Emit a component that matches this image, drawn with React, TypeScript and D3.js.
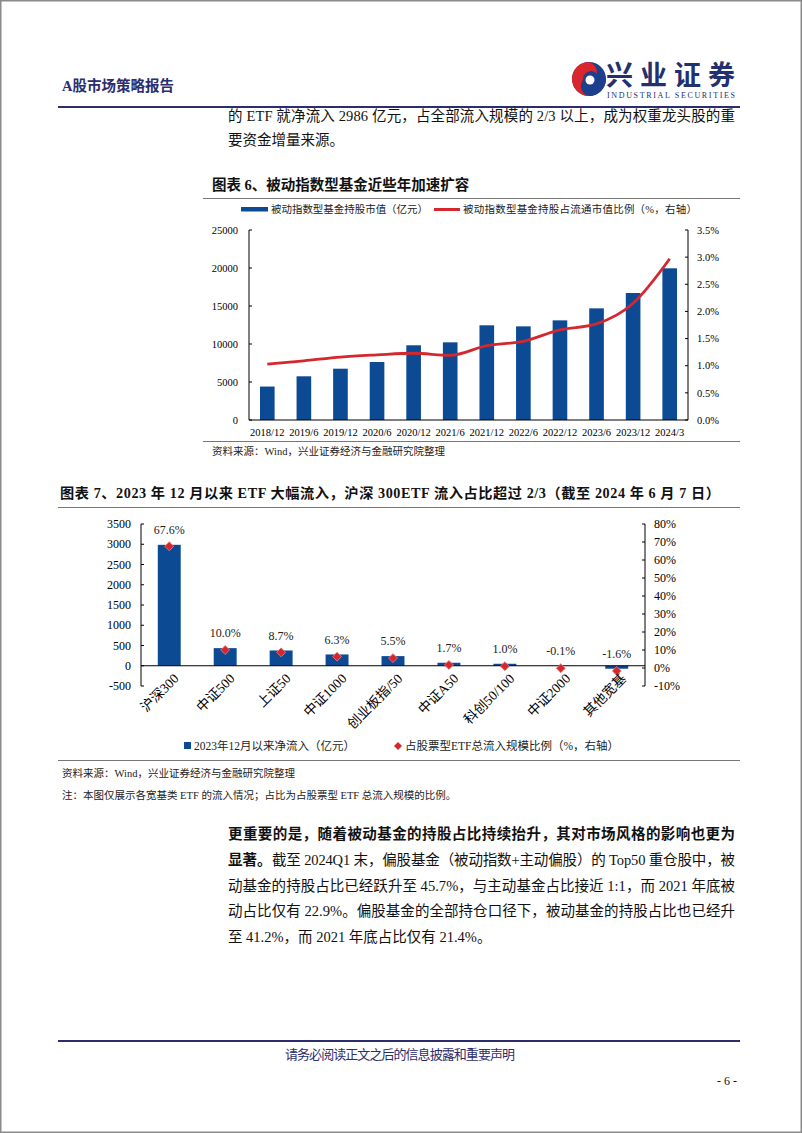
import * as d3 from "d3";

const W = 802;
const H = 1133;
const SERIF = '"Liberation Serif", "Noto Sans CJK SC", serif';
const NAVY = "#2b2d6c";
const BLUE = "#0c4a94";
const RED = "#d5282e";

// 图表6
const periods = ["2018/12", "2019/6", "2019/12", "2020/6", "2020/12", "2021/6", "2021/12", "2022/6", "2022/12", "2023/6", "2023/12", "2024/3"];
const holdingValue = [4400, 5750, 6750, 7630, 9830, 10220, 12460, 12320, 13110, 14690, 16710, 19960];
const floatShare = [1.03, 1.09, 1.16, 1.2, 1.23, 1.19, 1.37, 1.45, 1.66, 1.77, 2.15, 2.97];
const leftTicks1 = [0, 5000, 10000, 15000, 20000, 25000];
const rightTicks1 = [0, 0.5, 1, 1.5, 2, 2.5, 3, 3.5];

// 图表7
const etfNames = ["沪深300", "中证500", "上证50", "中证1000", "创业板指/50", "中证A50", "科创50/100", "中证2000", "其他宽基"];
const netInflow = [2986, 435, 377, 279, 238, 74, 49, -3, -74];
const inflowShare = [67.6, 10.0, 8.7, 6.3, 5.5, 1.7, 1.0, -0.1, -1.6];
const leftTicks2 = [-500, 0, 500, 1000, 1500, 2000, 2500, 3000, 3500];
const rightTicks2 = [-10, 0, 10, 20, 30, 40, 50, 60, 70, 80];

const Chart6 = () => {
  const x = d3.scaleBand().domain(periods).range([249, 688]).paddingInner(0.6).paddingOuter(0.3);
  const xc = (p: string) => (x(p) as number) + x.bandwidth() / 2;
  const yL = d3.scaleLinear().domain([0, 25000]).range([420, 230]);
  const yR = d3.scaleLinear().domain([0, 3.5]).range([420, 230]);
  const line = d3
    .line<number>()
    .x((_, i) => xc(periods[i]))
    .y((d) => yR(d))
    .curve(d3.curveMonotoneX);

  return (
    <g fontFamily={SERIF}>
      <text x={212} y={190} fontSize={14.5} fontWeight="bold" fill="#111">图表 6、被动指数型基金近些年加速扩容</text>
      <line x1={203} x2={740} y1={198.5} y2={198.5} stroke="#777" strokeWidth={1} />
      {/* legend */}
      <rect x={241} y={207} width={27} height={4.5} fill={BLUE} />
      <text x={271} y={213} fontSize={10.5} fill="#222" textLength={157}>被动指数型基金持股市值（亿元）</text>
      <line x1={434} x2={460} y1={209.5} y2={209.5} stroke={RED} strokeWidth={3} />
      <text x={463} y={213} fontSize={10.5} fill="#222" textLength={234}>被动指数型基金持股占流通市值比例（%，右轴）</text>

      {holdingValue.map((v, i) => (
        <rect key={periods[i]} x={x(periods[i])} y={yL(v)} width={x.bandwidth()} height={yL(0) - yL(v)} fill={BLUE} />
      ))}
      <path d={line(floatShare) || ""} fill="none" stroke={RED} strokeWidth={2.8} strokeLinejoin="round" />

      {/* axes */}
      <line x1={249} x2={249} y1={230} y2={420} stroke="#000" />
      <line x1={688} x2={688} y1={230} y2={420} stroke="#000" />
      <line x1={249} x2={688} y1={420} y2={420} stroke="#000" />
      {leftTicks1.map((t) => (
        <g key={t}>
          <line x1={249} x2={252} y1={yL(t)} y2={yL(t)} stroke="#000" />
          <text x={238} y={yL(t)} dy="0.35em" textAnchor="end" fontSize={10.5}>{t}</text>
        </g>
      ))}
      {rightTicks1.map((t) => (
        <g key={t}>
          <line x1={685} x2={688} y1={yR(t)} y2={yR(t)} stroke="#000" />
          <text x={697} y={yR(t)} dy="0.35em" fontSize={10.5}>{t.toFixed(1)}%</text>
        </g>
      ))}
      {periods.map((p) => (
        <text key={p} x={xc(p)} y={436} textAnchor="middle" fontSize={10.5}>{p}</text>
      ))}

      <line x1={203} x2={740} y1={441.5} y2={441.5} stroke="#777" strokeWidth={1} />
      <text x={212} y={455} fontSize={10.5} fill="#222">资料来源：Wind，兴业证券经济与金融研究院整理</text>
    </g>
  );
};

const Chart7 = () => {
  const x = d3.scaleBand().domain(etfNames).range([141, 645]).paddingInner(0.59).paddingOuter(0.3);
  const xc = (p: string) => (x(p) as number) + x.bandwidth() / 2;
  const yL = d3.scaleLinear().domain([-500, 3500]).range([686, 524]);
  const yR = d3.scaleLinear().domain([-10, 80]).range([686, 524]);
  const diamond = d3.symbol().type(d3.symbolSquare).size(40)();

  return (
    <g fontFamily={SERIF}>
      <text x={60} y={498} fontSize={14.2} fontWeight="bold" fill="#111" textLength={660}>图表 7、2023 年 12 月以来 ETF 大幅流入，沪深 300ETF 流入占比超过 2/3（截至 2024 年 6 月 7 日）</text>
      <line x1={58} x2={740} y1={507.5} y2={507.5} stroke="#777" strokeWidth={1} />

      {netInflow.map((v, i) => (
        <rect
          key={etfNames[i]}
          x={x(etfNames[i])}
          y={Math.min(yL(v), yL(0))}
          width={x.bandwidth()}
          height={Math.abs(yL(0) - yL(v))}
          fill={BLUE}
        />
      ))}

      {/* axes */}
      <line x1={141} x2={141} y1={524} y2={686} stroke="#000" />
      <line x1={645} x2={645} y1={524} y2={686} stroke="#000" />
      <line x1={141} x2={645} y1={yL(0)} y2={yL(0)} stroke="#000" strokeWidth={1.2} />
      {leftTicks2.map((t) => (
        <g key={t}>
          <line x1={141} x2={144} y1={yL(t)} y2={yL(t)} stroke="#000" />
          <text x={131} y={yL(t)} dy="0.35em" textAnchor="end" fontSize={12}>{t}</text>
        </g>
      ))}
      {rightTicks2.map((t) => (
        <g key={t}>
          <line x1={642} x2={645} y1={yR(t)} y2={yR(t)} stroke="#000" />
          <text x={654} y={yR(t)} dy="0.35em" fontSize={12}>{t}%</text>
        </g>
      ))}

      {inflowShare.map((v, i) => (
        <g key={etfNames[i]}>
          <path d={diamond || ""} transform={`translate(${xc(etfNames[i])},${yR(v)}) rotate(45)`} fill={RED} stroke="#e77" strokeWidth={0.8} />
          <text x={xc(etfNames[i])} y={yR(v) - 17} dy="0.35em" textAnchor="middle" fontSize={12} fill="#222">{v.toFixed(1)}%</text>
        </g>
      ))}

      {etfNames.map((n) => (
        <text key={n} transform={`translate(${xc(n) + 7},${676}) rotate(-45)`} textAnchor="end" dy="0.35em" fontSize={13.5}>{n}</text>
      ))}

      {/* legend */}
      <rect x={184} y={742} width={7} height={7} fill={BLUE} />
      <text x={194} y={750} fontSize={11.5} fill="#222">2023年12月以来净流入（亿元）</text>
      <path d={diamond || ""} transform="translate(398,746) rotate(45) scale(0.9)" fill={RED} />
      <text x={405} y={750} fontSize={11.5} fill="#222">占股票型ETF总流入规模比例（%，右轴）</text>

      <line x1={58} x2={740} y1={760.5} y2={760.5} stroke="#777" strokeWidth={1} />
      <text x={62} y={777} fontSize={10.5} fill="#222">资料来源：Wind，兴业证券经济与金融研究院整理</text>
      <text x={62} y={799} fontSize={10.5} fill="#222">注：本图仅展示各宽基类 ETF 的流入情况；占比为占股票型 ETF 总流入规模的比例。</text>
    </g>
  );
};

const Logo = () => (
  <g>
    <circle cx={589} cy={79} r={17} fill="#1d3f8e" />
    <path d="M589,62 A17,17 0 0 0 589,96 A10,10 0 0 1 583,80 A8,8 0 0 1 597,74 A11,11 0 0 0 589,62 Z" fill="#d8262c" />
    <path d="M589,96 A17,17 0 0 0 606,79 A9,9 0 0 0 597,74 A8,8 0 0 1 591,88 Z" fill="#1d3f8e" />
    <circle cx={590} cy={80} r={4.5} fill="#fff" />
    <text x={606} y={85} fontFamily={SERIF} fontSize={27} fontWeight="bold" fill="#22306f" textLength={129}>兴业证券</text>
    <text x={607} y={97.5} fontFamily={SERIF} fontSize={8} fill="#22306f" textLength={128}>INDUSTRIAL SECURITIES</text>
  </g>
);

export default function App() {
  return (
    <svg width={W} height={H} viewBox={`0 0 ${W} ${H}`} style={{ position: "absolute", left: 0, top: 0, background: "#fff" }}>
      <rect x={0.75} y={0.75} width={W - 1.5} height={H - 1.5} fill="#fff" stroke="#8a8a8a" strokeWidth={1.5} />
      <text x={62} y={91} fontFamily={SERIF} fontSize={14.5} fontWeight="bold" fill={NAVY}>A股市场策略报告</text>
      <Logo />
      <line x1={58} x2={740} y1={107} y2={107} stroke={NAVY} strokeWidth={2} />

      <g fontFamily={SERIF} fontSize={14.5} fill="#111">
        <text x={228} y={121} textLength={507}>的 ETF 就净流入 2986 亿元，占全部流入规模的 2/3 以上，成为权重龙头股的重</text>
        <text x={228} y={145}>要资金增量来源。</text>
      </g>

      <Chart6 />
      <Chart7 />

      <g fontFamily={SERIF} fontSize={14.5} fill="#111">
        <text x={228} y={839} fontWeight="bold" textLength={507}>更重要的是，随着被动基金的持股占比持续抬升，其对市场风格的影响也更为</text>
        <text x={228} y={865} fontWeight="bold">显著。</text>
        <text x={272} y={865} textLength={463}>截至 2024Q1 末，偏股基金（被动指数+主动偏股）的 Top50 重仓股中，被</text>
        <text x={228} y={891} textLength={507}>动基金的持股占比已经跃升至 45.7%，与主动基金占比接近 1:1，而 2021 年底被</text>
        <text x={228} y={916} textLength={507}>动占比仅有 22.9%。偏股基金的全部持仓口径下，被动基金的持股占比也已经升</text>
        <text x={228} y={942}>至 41.2%，而 2021 年底占比仅有 21.4%。</text>
      </g>

      <line x1={58} x2={740} y1={1041} y2={1041} stroke={NAVY} strokeWidth={2} />
      <text x={400} y={1059} textAnchor="middle" fontFamily={SERIF} fontSize={13} fill={NAVY} textLength={230}>请务必阅读正文之后的信息披露和重要声明</text>
      <text x={737} y={1085} textAnchor="end" fontFamily={SERIF} fontSize={12} fill="#111">- 6 -</text>
    </svg>
  );
}
